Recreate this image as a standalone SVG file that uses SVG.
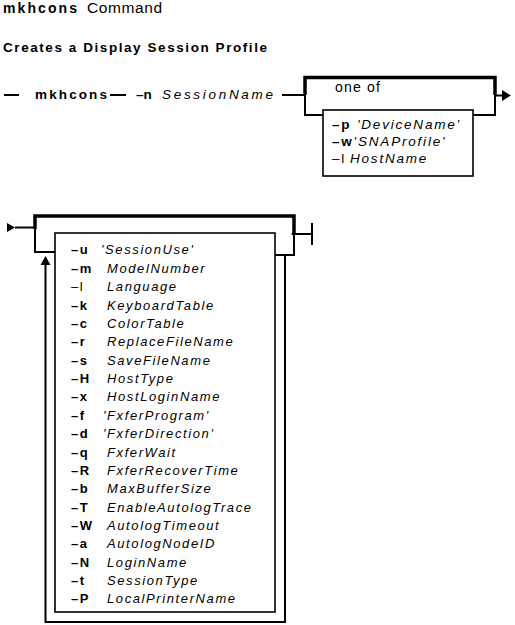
<svg xmlns="http://www.w3.org/2000/svg" width="515" height="625" viewBox="0 0 515 625">
<style>
text{font-family:"Liberation Sans",Arial,sans-serif;fill:#000}
.b{font-weight:bold}
.i{font-style:italic}
.r{font-size:13px;letter-spacing:1.6px}
.o{font-size:13.5px;letter-spacing:1.8px}
.ln{stroke:#000;stroke-width:2;fill:none}
.tk{stroke:#000;stroke-width:3.5;fill:none}
.bx{stroke:#000;stroke-width:1.6;fill:#fff}
</style>
<g id="title">
<text x="3" y="13" class="b" font-size="14" textLength="74" lengthAdjust="spacing">mkhcons</text>
<text x="87" y="13" font-size="15.5" textLength="75" lengthAdjust="spacing">Command</text>
<text x="3" y="52" class="b" font-size="13.5" textLength="264" lengthAdjust="spacing">Creates a Display Session Profile</text>
</g>
<g id="connectors">
<path class="ln" d="M4 95H19M110 95H126M282 95H305"/>
<path class="tk" d="M305 95V77.5H495V95"/>
<path class="ln" d="M305 94V115H323M473 115H495V94M495 95.5H502"/>
<polygon points="502,90 511,95.5 502,101"/>
<polygon points="7,223 15,227.5 7,232"/>
<path class="ln" d="M15 227.5H35"/>
<path class="tk" d="M35 229V216H294V235"/>
<path class="ln" d="M35 228V252H55M275 255H294V234M294 234H312M312 223V245"/>
<path class="ln" d="M285 255V622H45.5V263"/>
<polygon points="45.5,256 40.5,265 50.5,265"/>
<polygon points="291,234 295,231.5 295,236.5"/>
</g>
<g id="main">
<text x="35" y="99" class="b" font-size="13.5" textLength="72" lengthAdjust="spacing">mkhcons</text>
<text x="136" y="99" class="b" font-size="13.5">–n</text>
<text x="162" y="99" class="i" font-size="13.5" textLength="111" lengthAdjust="spacing">SessionName</text>
</g>
<g id="oneof">
<text x="335" y="92" font-size="14" textLength="45" lengthAdjust="spacing">one of</text>
<rect class="bx" x="323" y="110" width="150" height="66"/>
<text x="332" y="129" class="o"><tspan class="b">–p</tspan><tspan class="i"> 'DeviceName'</tspan></text>
<text x="332" y="146" class="o"><tspan class="b">–w</tspan><tspan class="i">'SNAProfile'</tspan></text>
<text x="332" y="163" class="o"><tspan>–l</tspan><tspan class="i" x="350">HostName</tspan></text>
</g>
<g id="options">
<rect class="bx" x="55" y="233" width="220" height="379"/>
<g class="r">
<text x="71" y="254.4"><tspan class="b">–u</tspan><tspan class="i" x="101">'SessionUse'</tspan></text>
<text x="71" y="272.8"><tspan class="b">–m</tspan><tspan class="i" x="107">ModelNumber</tspan></text>
<text x="71" y="291.1"><tspan>–l</tspan><tspan class="i" x="107">Language</tspan></text>
<text x="71" y="309.5"><tspan class="b">–k</tspan><tspan class="i" x="107">KeyboardTable</tspan></text>
<text x="71" y="327.9"><tspan class="b">–c</tspan><tspan class="i" x="107">ColorTable</tspan></text>
<text x="71" y="346.3"><tspan class="b">–r</tspan><tspan class="i" x="107">ReplaceFileName</tspan></text>
<text x="71" y="364.6"><tspan class="b">–s</tspan><tspan class="i" x="107">SaveFileName</tspan></text>
<text x="71" y="383"><tspan class="b">–H</tspan><tspan class="i" x="107">HostType</tspan></text>
<text x="71" y="401.4"><tspan class="b">–x</tspan><tspan class="i" x="107">HostLoginName</tspan></text>
<text x="71" y="419.7"><tspan class="b">–f</tspan><tspan class="i" x="103">'FxferProgram'</tspan></text>
<text x="71" y="438.1"><tspan class="b">–d</tspan><tspan class="i" x="103">'FxferDirection'</tspan></text>
<text x="71" y="456.5"><tspan class="b">–q</tspan><tspan class="i" x="107">FxferWait</tspan></text>
<text x="71" y="474.8"><tspan class="b">–R</tspan><tspan class="i" x="107">FxferRecoverTime</tspan></text>
<text x="71" y="493.2"><tspan class="b">–b</tspan><tspan class="i" x="107">MaxBufferSize</tspan></text>
<text x="71" y="511.6"><tspan class="b">–T</tspan><tspan class="i" x="107">EnableAutologTrace</tspan></text>
<text x="71" y="530"><tspan class="b">–W</tspan><tspan class="i" x="107">AutologTimeout</tspan></text>
<text x="71" y="548.3"><tspan class="b">–a</tspan><tspan class="i" x="107">AutologNodeID</tspan></text>
<text x="71" y="566.7"><tspan class="b">–N</tspan><tspan class="i" x="107">LoginName</tspan></text>
<text x="71" y="585.1"><tspan class="b">–t</tspan><tspan class="i" x="107">SessionType</tspan></text>
<text x="71" y="603.4"><tspan class="b">–P</tspan><tspan class="i" x="107">LocalPrinterName</tspan></text>
</g>
</g>
</svg>
